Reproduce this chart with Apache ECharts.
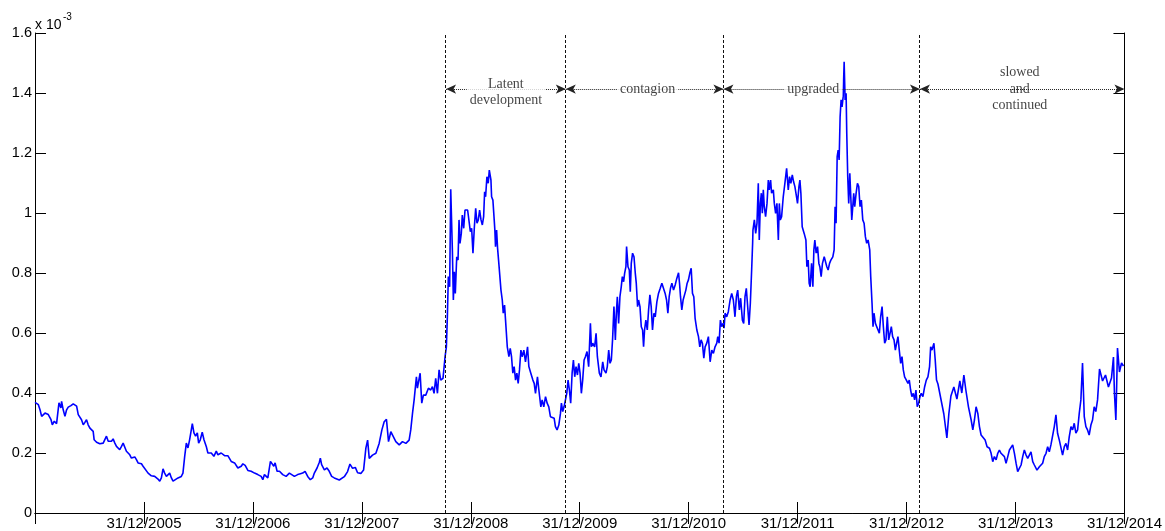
<!DOCTYPE html>
<html><head><meta charset="utf-8">
<script src="https://cdn.jsdelivr.net/npm/echarts@6/dist/echarts.min.js"></script>
<style>html,body{margin:0;padding:0;background:#fff}#c{width:1165px;height:531px}</style>
</head><body><div id="c"></div>
<script>
// x: years elapsed since 1 Jan 2005 ; y: value in units of 1e-3
const startYear = 2005;
const yearsFromStart = [
0.000,0.031,0.046,0.061,0.076,0.092,0.122,0.147,0.159,0.177,0.198,0.220,0.238,0.244,0.259,0.275,0.290,0.305,0.330,0.351,0.366,0.382,0.397,0.412,0.427,0.443,0.458,0.473,0.488,0.504,0.519,0.534,0.543,0.565,0.595,0.626,0.641,0.656,0.672,0.687,0.702,0.717,0.733,0.748,0.778,0.794,0.809,0.824,0.839,0.855,0.870,0.885,0.916,0.931,0.946,0.977,0.992,1.007,1.038,1.068,1.099,1.129,1.145,1.160,1.175,1.190,1.206,1.221,1.236,1.252,1.267,1.282,1.313,1.343,1.358,1.374,1.389,1.404,1.419,1.435,1.444,1.459,1.474,1.490,1.502,1.517,1.535,1.551,1.572,1.587,1.603,1.618,1.642,1.664,1.679,1.709,1.740,1.770,1.801,1.832,1.862,1.893,1.908,1.929,1.954,1.984,2.015,2.045,2.076,2.091,2.106,2.137,2.161,2.173,2.192,2.204,2.222,2.244,2.274,2.305,2.335,2.350,2.381,2.411,2.436,2.457,2.479,2.503,2.527,2.549,2.564,2.589,2.610,2.619,2.631,2.656,2.680,2.701,2.723,2.747,
2.793,2.839,2.869,2.891,2.915,2.940,2.961,2.991,3.016,3.037,3.053,3.068,3.098,3.129,3.144,3.159,3.184,3.205,3.226,3.245,3.266,3.281,3.312,3.343,3.373,3.404,3.434,3.449,3.465,3.480,3.492,
3.501,3.510,3.526,3.535,3.550,3.565,3.587,3.611,3.632,3.648,3.663,3.678,3.694,3.709,3.724,3.745,3.764,3.776,3.785,3.794,3.806,3.816,3.831,3.840,3.849,3.858,3.871,3.883,3.892,3.901,3.913,3.922,3.935,3.947,3.959,3.971,3.984,3.996,4.008,4.020,4.033,4.045,4.057,4.069,4.081,4.094,4.106,4.118,4.127,4.136,4.148,4.160,4.170,4.179,4.185,4.191,4.203,4.215,4.221,4.227,4.237,4.246,4.255,4.264,4.277,4.289,4.298,4.310,4.319,4.335,4.350,4.362,4.374,4.386,4.398,4.411,4.423,4.435,4.447,4.460,4.472,4.487,4.502,4.521,4.533,4.551,4.570,4.582,4.594,4.612,4.625,4.643,4.655,4.670,4.686,4.701,4.716,4.731,4.747,4.765,4.777,4.792,4.808,4.823,4.832,4.844,4.856,4.869,4.881,4.893,4.905,4.917,4.930,4.942,4.954,4.966,4.979,4.991,5.003,5.015,5.027,5.040,5.052,5.067,5.082,
5.098,5.107,5.119,5.137,5.150,5.162,5.180,5.195,5.211,5.223,5.241,5.253,5.266,5.278,5.290,5.302,5.314,5.327,5.336,5.345,5.357,5.369,5.381,5.391,5.403,5.412,5.424,5.430,5.443,5.455,5.464,5.473,5.485,5.498,5.510,5.519,5.531,5.540,5.553,5.565,5.577,5.586,5.595,5.607,5.620,5.632,5.644,5.656,5.668,5.681,5.693,5.708,5.723,5.739,5.754,5.769,5.784,5.797,5.809,5.821,5.833,5.846,5.861,5.876,5.891,5.907,5.916,5.925,5.937,5.949,5.962,5.974,5.986,5.998,6.010,6.023,6.035,6.047,6.059,6.075,6.090,6.102,6.114,6.126,6.139,6.151,6.166,6.181,6.197,6.212,6.227,6.242,6.258,6.267,6.279,6.291,6.303,6.316,6.325,6.334,6.349,6.364,6.380,6.395,6.410,6.425,6.438,6.450,6.465,6.477,6.493,6.505,6.517,6.529,6.542,6.554,6.566,6.578,6.587,
6.590,6.603,6.615,6.627,6.639,6.648,6.658,6.667,6.676,6.685,6.694,6.706,6.719,6.731,6.740,6.752,6.761,6.777,6.786,6.798,6.810,6.823,6.832,6.841,6.853,6.868,6.883,6.899,6.914,6.926,6.938,6.951,6.963,6.975,6.990,6.999,7.012,7.021,7.030,7.042,7.060,7.076,7.085,7.097,7.106,7.115,7.128,7.140,7.149,7.158,7.170,7.183,7.195,7.204,7.216,7.228,7.244,7.256,7.268,7.280,7.293,7.305,7.323,7.335,7.344,7.353,7.363,7.372,7.381,7.390,7.399,7.408,7.418,7.427,7.436,7.445,7.451,7.460,7.469,7.479,7.488,7.497,7.506,7.515,7.524,7.537,7.549,7.561,7.573,7.585,7.598,7.610,7.622,7.634,7.647,7.662,7.671,7.683,7.692,7.701,7.714,7.726,7.738,7.750,7.762,7.775,7.787,7.799,7.811,7.823,7.836,7.848,7.860,7.872,7.885,7.897,7.909,7.921,7.933,7.946,7.958,7.970,7.982,7.998,8.013,8.025,8.037,8.049,8.062,8.074,8.086,8.098,8.111,8.123,8.135,8.150,8.166,8.181,8.196,8.211,8.221,8.233,8.251,8.263,8.275,
8.288,8.315,8.342,8.370,8.388,8.407,8.434,8.462,8.489,8.507,8.526,8.544,8.568,8.593,8.608,8.623,8.638,8.654,8.669,8.684,8.700,8.721,8.739,8.761,8.776,8.791,8.806,8.822,8.837,8.852,8.867,8.883,8.898,8.913,8.929,8.944,8.959,8.974,8.990,9.005,9.020,9.035,9.051,9.066,9.081,9.097,9.112,9.127,9.142,9.158,9.173,9.197,9.219,9.234,9.249,9.264,9.280,9.295,9.310,9.325,9.341,9.356,9.371,9.386,9.402,9.417,9.432,9.448,9.463,9.478,9.493,9.509,9.524,9.539,9.554,9.570,9.585,9.600,9.615,9.631,9.646,9.661,9.676,9.692,9.707,9.722,9.737,9.753,9.771,9.799,9.826,9.853,9.881,9.899,9.908,9.921,9.927,9.936,9.954,9.973,9.991
];
const values = [
0.369,0.361,0.344,0.322,0.328,0.333,0.328,0.311,0.294,0.306,0.298,0.367,0.350,0.372,0.344,0.322,0.344,0.353,0.358,0.364,0.358,0.356,0.328,0.328,0.311,0.294,0.302,0.311,0.294,0.283,0.278,0.272,0.244,0.236,0.231,0.233,0.228,0.256,0.239,0.244,0.239,0.247,0.233,0.222,0.211,0.222,0.233,0.228,0.206,0.200,0.194,0.183,0.187,0.178,0.167,0.164,0.156,0.150,0.133,0.124,0.122,0.113,0.106,0.117,0.147,0.133,0.122,0.128,0.133,0.117,0.106,0.111,0.117,0.122,0.133,0.189,0.233,0.217,0.244,0.278,0.298,0.267,0.256,0.267,0.233,0.244,0.269,0.244,0.222,0.200,0.194,0.200,0.189,0.206,0.194,0.200,0.191,0.191,0.172,0.167,0.150,0.156,0.164,0.159,0.142,0.139,0.133,0.128,0.122,0.111,0.128,0.117,0.172,0.167,0.156,0.167,0.139,0.139,0.128,0.122,0.133,0.139,0.122,0.128,0.131,0.133,0.139,0.122,0.111,0.117,0.133,0.150,0.169,0.183,0.161,0.144,0.150,0.139,0.122,0.117,
0.110,0.121,0.138,0.163,0.149,0.152,0.134,0.132,0.143,0.216,0.243,0.182,0.193,0.199,0.204,0.232,0.277,0.304,0.312,0.238,0.271,0.277,0.238,0.227,0.238,0.232,0.243,0.277,0.332,0.377,0.421,
0.454,0.416,0.421,0.466,0.366,0.393,0.393,0.416,0.410,0.421,0.399,0.449,0.399,0.477,0.443,0.449,0.521,0.554,0.654,0.788,0.754,1.079,0.877,0.710,0.804,0.732,0.854,0.843,0.977,0.899,0.932,0.993,0.949,1.010,1.016,1.010,1.016,0.938,0.949,0.866,0.954,1.016,0.966,0.977,1.010,0.977,0.960,0.988,1.071,1.054,1.121,1.099,1.143,1.149,1.110,1.054,1.043,0.977,0.943,0.888,0.943,0.882,0.843,0.838,0.743,0.710,0.666,0.693,0.643,0.554,0.521,0.549,0.521,0.466,0.488,0.443,0.466,0.432,0.477,0.543,0.521,0.543,0.504,0.554,0.488,0.466,0.443,0.432,0.399,0.454,0.410,0.354,0.377,0.354,0.388,0.366,0.354,0.321,0.321,0.316,0.288,0.277,0.293,0.332,0.366,0.338,0.354,0.360,0.399,0.443,0.410,0.366,0.466,0.510,0.454,0.488,0.460,0.499,0.466,0.399,0.443,0.510,0.521,0.538,0.488,
0.632,0.554,0.566,0.554,0.599,0.521,0.466,0.454,0.504,0.477,0.466,0.488,0.543,0.499,0.510,0.582,0.688,0.577,0.666,0.721,0.632,0.721,0.754,0.788,0.771,0.799,0.821,0.888,0.821,0.810,0.738,0.832,0.866,0.854,0.799,0.766,0.688,0.710,0.688,0.621,0.610,0.554,0.610,0.643,0.610,0.677,0.727,0.688,0.610,0.666,0.654,0.704,0.732,0.749,0.766,0.766,0.732,0.710,0.666,0.721,0.749,0.766,0.743,0.760,0.782,0.801,0.766,0.721,0.677,0.710,0.704,0.743,0.766,0.777,0.799,0.816,0.732,0.721,0.649,0.610,0.588,0.554,0.577,0.566,0.516,0.554,0.566,0.588,0.504,0.543,0.532,0.554,0.566,0.588,0.566,0.643,0.621,0.632,0.616,0.666,0.654,0.671,0.710,0.732,0.710,0.654,0.721,0.743,0.677,0.716,0.643,0.632,0.721,0.749,0.743,0.627,0.699,0.810,0.899,
0.943,0.977,0.932,0.966,1.099,0.910,1.032,1.066,0.999,1.077,1.021,0.988,1.032,1.110,1.077,1.110,1.066,1.077,1.032,0.999,1.032,0.910,1.032,0.977,0.988,1.054,1.099,1.149,1.077,1.121,1.099,1.127,1.104,1.088,1.054,1.032,1.088,1.110,1.066,0.954,0.932,0.910,0.821,0.843,0.766,0.754,0.832,0.754,0.877,0.910,0.866,0.888,0.832,0.821,0.788,0.832,0.854,0.849,0.821,0.810,0.832,0.843,0.854,0.877,1.021,0.966,1.188,1.210,1.177,1.321,1.377,1.354,1.388,1.504,1.377,1.399,1.266,1.121,1.032,1.132,1.054,0.977,1.021,1.066,1.021,1.066,1.099,1.088,1.021,1.043,0.977,0.966,0.921,0.899,0.910,0.877,0.788,0.699,0.621,0.666,0.632,0.632,0.610,0.599,0.654,0.688,0.621,0.566,0.577,0.654,0.577,0.599,0.621,0.588,0.577,0.543,0.566,0.588,0.543,0.499,0.521,0.477,0.454,0.443,0.432,0.443,0.410,0.388,0.399,0.377,0.410,0.354,0.366,0.388,0.399,0.388,0.421,0.443,0.454,0.488,0.554,0.543,0.566,0.510,0.443,
0.430,0.380,0.330,0.250,0.330,0.390,0.420,0.380,0.440,0.400,0.460,0.410,0.354,0.310,0.277,0.310,0.354,0.332,0.288,0.260,0.254,0.243,0.221,0.216,0.199,0.171,0.188,0.177,0.199,0.210,0.199,0.204,0.188,0.166,0.188,0.210,0.204,0.227,0.199,0.166,0.138,0.149,0.160,0.188,0.210,0.193,0.182,0.193,0.204,0.171,0.160,0.143,0.154,0.149,0.166,0.188,0.199,0.221,0.204,0.227,0.232,0.288,0.327,0.266,0.243,0.238,0.193,0.221,0.232,0.210,0.254,0.288,0.277,0.299,0.266,0.277,0.332,0.377,0.500,0.321,0.288,0.277,0.260,0.293,0.310,0.354,0.338,0.377,0.480,0.440,0.460,0.420,0.450,0.520,0.400,0.310,0.400,0.550,0.470,0.500,0.490
];
const xTickLabels = ['', '31/12/2005', '31/12/2006', '31/12/2007', '31/12/2008', '31/12/2009', '31/12/2010', '31/12/2011', '31/12/2012', '31/12/2013', '31/12/2014'];
const phaseBounds = [2008.773, 2009.872, 2011.319, 2013.123, 2015.0];
const phaseNames = ['Latent\ndevelopment', 'contagion', 'upgraded', 'slowed\nand\ncontinued'];
const phaseLabelAt = [2009.322, 2010.623, 2012.143, 2014.039];
const arrowLevel = 1.413;

const seriesData = yearsFromStart.map((d, i) => [startYear + d, values[i]]);

const chart = echarts.init(document.getElementById('c'), null, {renderer: 'canvas'});
const axisCommon = {
  type: 'value', min: 2005, max: 2015, interval: 1,
  axisLine: {show: true, lineStyle: {color: '#000', width: 1}},
  axisTick: {show: true, inside: true, length: 11, lineStyle: {color: '#000', width: 1}},
  splitLine: {show: false}
};
const yCommon = {
  type: 'value', min: 0, max: 1.6, interval: 0.2,
  axisLine: {show: true, lineStyle: {color: '#000', width: 1}},
  axisTick: {show: true, inside: true, length: 11, lineStyle: {color: '#000', width: 1}},
  splitLine: {show: false}
};

const markLineData = [];
for (let i = 0; i < 4; i++) {
  markLineData.push({xAxis: phaseBounds[i], symbol: 'none',
    lineStyle: {type: [3, 2], color: '#111', width: 1}, label: {show: false}});
}
for (let i = 0; i < 4; i++) {
  markLineData.push([
    {coord: [phaseBounds[i], arrowLevel], symbol: 'arrow', symbolSize: [7, 10],
     lineStyle: {type: [1, 1], color: '#222', width: 1}, label: {show: false}},
    {coord: [phaseBounds[i + 1], arrowLevel], symbol: 'arrow', symbolSize: [7, 10]}
  ]);
}

const labelItems = phaseNames.map((n, i) => ({
  value: [phaseLabelAt[i], arrowLevel], name: n,
  label: i === 3 ? {backgroundColor: 'transparent'} : (i === 0 ? {offset: [0, 3]} : {})
}));

chart.setOption({
  animation: false,
  backgroundColor: '#fff',
  grid: {left: 35, right: 38, top: 33, bottom: 18, containLabel: false},
  xAxis: [
    Object.assign({}, axisCommon, {position: 'bottom',
      axisLabel: {show: true, margin: 3, color: '#000', fontFamily: 'Liberation Sans, Arial', fontSize: 15,
        formatter: v => xTickLabels[Math.round(v - startYear)] || ''}}),
    Object.assign({}, axisCommon, {position: 'top', axisLabel: {show: false}})
  ],
  yAxis: [
    Object.assign({}, yCommon, {position: 'left',
      axisLabel: {show: true, margin: 3, color: '#000', fontFamily: 'Liberation Sans, Arial', fontSize: 14.5,
        formatter: v => String(+v.toFixed(1))}}),
    Object.assign({}, yCommon, {position: 'right', axisLabel: {show: false}})
  ],
  graphic: [
    {type: 'text', left: 35, top: 18, style: {text: 'x 10', font: '14px "Liberation Sans", Arial', fill: '#000'}},
    {type: 'text', left: 63, top: 12, style: {text: '-3', font: '10px "Liberation Sans", Arial', fill: '#000'}}
  ],
  series: [
    {
      type: 'line', xAxisIndex: 0, yAxisIndex: 0, data: seriesData,
      showSymbol: false, symbol: 'none', lineStyle: {color: '#0000ff', width: 1.6},
      z: 2,
      markLine: {silent: true, animation: false, symbol: ['none', 'none'], data: markLineData}
    },
    {
      type: 'scatter', xAxisIndex: 0, yAxisIndex: 0, z: 6, silent: true,
      symbolSize: 1, itemStyle: {color: 'rgba(0,0,0,0)'},
      data: labelItems,
      label: {show: true, position: 'inside', formatter: p => p.name,
        fontFamily: 'Liberation Serif, Times New Roman', fontSize: 14, color: '#111', lineHeight: 16.5,
        backgroundColor: '#fff', padding: [0, 3]}
    }
  ]
});
</script></body></html>
